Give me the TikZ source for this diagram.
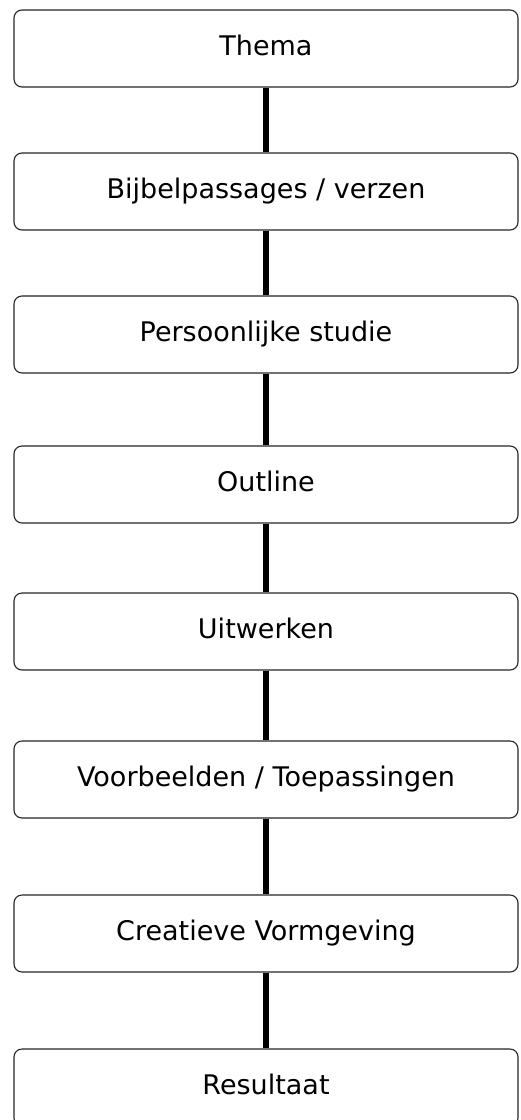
\documentclass[tikz,border=0pt]{standalone}
\usepackage{fontspec}
\setmainfont{DejaVu Sans}
\begin{document}
\begin{tikzpicture}[x=1pt,y=-1pt,
  stepbox/.style={draw=black!85, line width=1.1pt, rounded corners=8pt,
    minimum width=504pt, minimum height=77pt, inner sep=0pt,
    text height=19.5pt, text depth=6pt, font=\fontsize{27}{31}\selectfont},
  conn/.style={line width=5.5pt, black}]
\useasboundingbox (0,0) rectangle (520,1120);
\clip (0,0) rectangle (520,1120);
\fill[white] (0,0) rectangle (520,1120);
\node[stepbox] (b1) at (266,48.5) {Thema};
\node[stepbox] (b2) at (266,191.5) {Bijbelpassages / verzen};
\node[stepbox] (b3) at (266,334.5) {Persoonlijke studie};
\node[stepbox] (b4) at (266,484.5) {Outline};
\node[stepbox] (b5) at (266,631.5) {Uitwerken};
\node[stepbox] (b6) at (266,779.5) {Voorbeelden / Toepassingen};
\node[stepbox] (b7) at (266,933.5) {Creatieve Vormgeving};
\node[stepbox] (b8) at (266,1087.5) {Resultaat};
\draw[conn] (b1) -- (b2);
\draw[conn] (b2) -- (b3);
\draw[conn] (b3) -- (b4);
\draw[conn] (b4) -- (b5);
\draw[conn] (b5) -- (b6);
\draw[conn] (b6) -- (b7);
\draw[conn] (b7) -- (b8);
\end{tikzpicture}
\end{document}
